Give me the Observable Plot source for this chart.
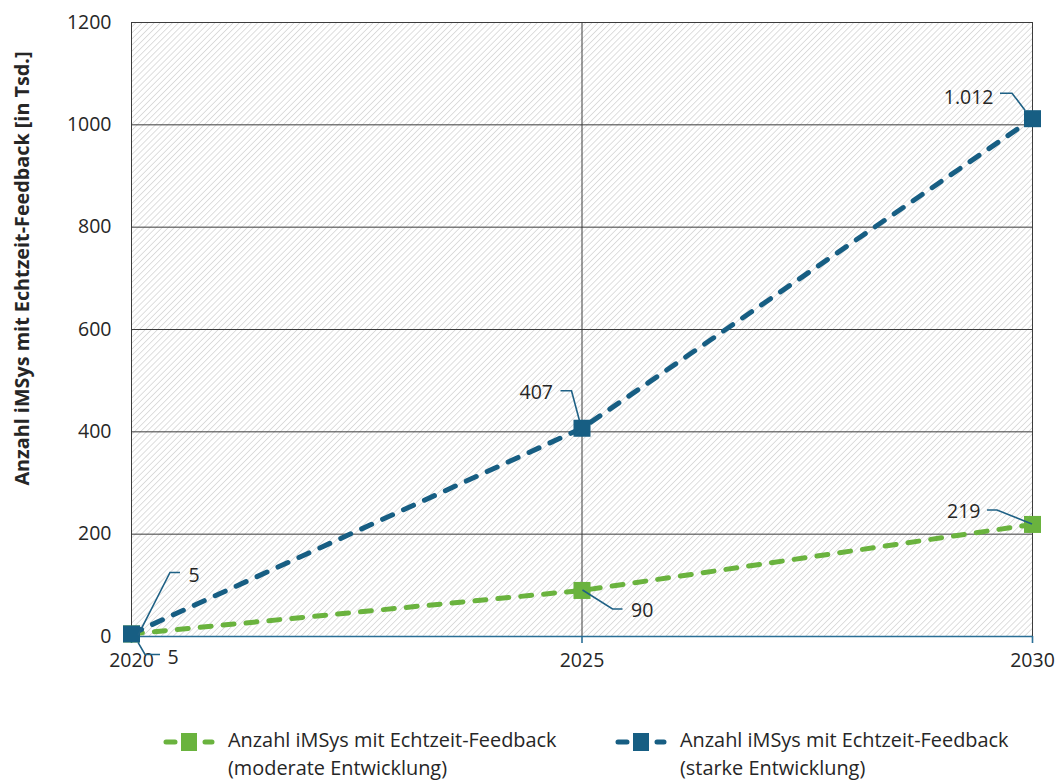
<!DOCTYPE html>
<html>
<head>
<meta charset="utf-8">
<script src="https://cdn.jsdelivr.net/npm/d3@7"></script>
<script src="https://cdn.jsdelivr.net/npm/@observablehq/plot@0.6"></script>
<style>
  body { margin: 0; background: #fff; font-family: "Open Sans", sans-serif; }
  #wrap { position: relative; width: 1059px; height: 780px; overflow: hidden; }
  #legend { position: absolute; left: 0; top: 726px; width: 1059px; height: 54px; font-size: 19.9px; color: #262626; line-height: 28px; }
  .item { position: absolute; top: 0; display: flex; align-items: flex-start; }
  .item svg { margin-top: 5px; margin-right: 13px; }
</style>
</head>
<body>
<div id="wrap">
  <div id="chart"></div>
  <div id="legend"></div>
</div>
<script>
// ---- data ----
const years = [2020, 2025, 2030];
const moderate = [5, 90, 219];
const strong = [5, 407, 1012];
const seriesNames = ["Anzahl iMSys mit Echtzeit-Feedback (moderate Entwicklung)", "Anzahl iMSys mit Echtzeit-Feedback (starke Entwicklung)"];
const legendLines = [["Anzahl iMSys mit Echtzeit-Feedback", "(moderate Entwicklung)"], ["Anzahl iMSys mit Echtzeit-Feedback", "(starke Entwicklung)"]];
const yTicks = [0, 200, 400, 600, 800, 1000, 1200];
const yTitle = "Anzahl iMSys mit Echtzeit-Feedback [in Tsd.]";

// ---- styles ----
const GREEN = "#6ab33e";
const BLUE = "#175e83";
const AXISBLUE = "#2b6f96";
const LEADER = "#1f6185";
const TEXT = "#262626";
const GRID = "#3c3c3c";
const colors = [GREEN, BLUE];

const rows = [];
years.forEach((yr, i) => {
  rows.push({series: 0, year: yr, value: moderate[i]});
});
years.forEach((yr, i) => {
  rows.push({series: 1, year: yr, value: strong[i]});
});
const fmt = v => v.toLocaleString("de-DE");

// label layout (pixel offsets relative to the data point)
const labelLayout = [
  // moderate
  {dx: 36, dy: 24, anchor: "start", leader: [[7, 9], [14, 21], [29, 21]]},
  {dx: 49, dy: 20, anchor: "start", leader: [[1, 0], [31, 19], [41, 19]]},
  {dx: -52, dy: -13, anchor: "end", leader: [[-45, -14], [-35, -14], [0, 0]]},
  // strong
  {dx: 57, dy: -58, anchor: "start", leader: [[7, 2], [39, -61], [49, -61]]},
  {dx: -29, dy: -36, anchor: "end", leader: [[-2, -7], [-10, -37], [-21, -37]]},
  {dx: -39, dy: -21, anchor: "end", leader: [[-32, -25], [-20, -25], [-7, -8]]}
];
const labelRows = rows.map((r, i) => ({...r, label: fmt(r.value), ...labelLayout[i]}));

// background hatch
function hatch(index, scales, values, dimensions) {
  const {width, height, marginLeft, marginRight, marginTop, marginBottom} = dimensions;
  const g = d3.create("svg:g");
  const defs = g.append("defs");
  const p = defs.append("pattern").attr("id", "hatch").attr("patternUnits", "userSpaceOnUse")
    .attr("width", 4.3).attr("height", 4.3).attr("patternTransform", "rotate(45)");
  p.append("rect").attr("width", 4.3).attr("height", 4.3).attr("fill", "#ffffff");
  p.append("line").attr("x1", 0).attr("y1", 0).attr("x2", 0).attr("y2", 4.3)
    .attr("stroke", "#cdcdcd").attr("stroke-width", 1.3);
  g.append("rect").attr("x", marginLeft).attr("y", marginTop)
    .attr("width", width - marginLeft - marginRight).attr("height", height - marginTop - marginBottom)
    .attr("fill", "url(#hatch)");
  return g.node();
}

// leader lines
function leaders(index, scales) {
  const g = d3.create("svg:g").attr("fill", "none").attr("stroke", LEADER).attr("stroke-width", 1.6);
  for (const d of labelRows) {
    const px = scales.x(d.year), py = scales.y(d.value);
    g.append("path").attr("d", d3.line()(d.leader.map(([a, b]) => [px + a, py + b])));
  }
  return g.node();
}

const marks = [
  hatch,
  Plot.ruleY(yTicks.filter(t => t > 0), {stroke: GRID, strokeWidth: 1}),
  Plot.ruleX(years, {stroke: GRID, strokeWidth: 1}),
  Plot.ruleY([0], {stroke: AXISBLUE, strokeWidth: 1.6}),
  Plot.axisX({ticks: years, tickFormat: d => String(d), tickSize: 7, stroke: AXISBLUE, strokeWidth: 1.6, fill: TEXT, tickPadding: 10, fontSize: 19.5, label: null}),
  Plot.axisY({ticks: yTicks, tickFormat: d => String(d), tickSize: 0, tickPadding: 20, fill: TEXT, fontSize: 19.5, label: null}),
  Plot.text([yTitle], {frameAnchor: "left", text: d => d, rotate: -90, textAnchor: "middle", dx: -109, dy: -61, fontSize: 19.8, fontWeight: "bold", fill: TEXT}),
];
[0, 1].forEach(s => {
  const data = rows.filter(r => r.series === s);
  marks.push(Plot.line(data, {x: "year", y: "value", stroke: colors[s], strokeWidth: 5, strokeDasharray: "11,12", strokeLinecap: "round"}));
  marks.push(Plot.dot(data, {x: "year", y: "value", symbol: "square", r: 9.6, fill: colors[s], stroke: "none"}));
});
marks.push(leaders);
for (const anchor of ["start", "end"]) {
  const d = labelRows.filter(r => r.anchor === anchor);
  d.forEach(r => {
    marks.push(Plot.text([r], {x: "year", y: "value", text: "label", dx: r.dx, dy: r.dy, textAnchor: anchor, fontSize: 19.5, fill: TEXT}));
  });
}

const chart = Plot.plot({
  width: 1059,
  height: 700,
  marginLeft: 131,
  marginRight: 27,
  marginTop: 22,
  marginBottom: 64,
  style: {fontFamily: "'Open Sans', sans-serif", fontSize: "19px", color: TEXT, background: "#fff"},
  x: {domain: [2020, 2030], axis: null},
  y: {domain: [0, 1200], axis: null},
  marks
});
document.getElementById("chart").appendChild(chart);

// legend
const legend = d3.select("#legend");
const positions = [163, 615];
[0, 1].forEach(s => {
  const item = legend.append("div").attr("class", "item").style("left", positions[s] + "px");
  const svg = item.append("svg").attr("width", 52).attr("height", 20);
  svg.append("line").attr("x1", 3).attr("x2", 49).attr("y1", 11).attr("y2", 11)
    .attr("stroke", colors[s]).attr("stroke-width", 5).attr("stroke-linecap", "round").attr("stroke-dasharray", "9,30");
  svg.append("rect").attr("x", 18).attr("y", 2).attr("width", 16).attr("height", 18).attr("fill", colors[s]);
  const txt = item.append("div");
  legendLines[s].forEach(l => txt.append("div").text(l));
});
</script>
</body>
</html>
